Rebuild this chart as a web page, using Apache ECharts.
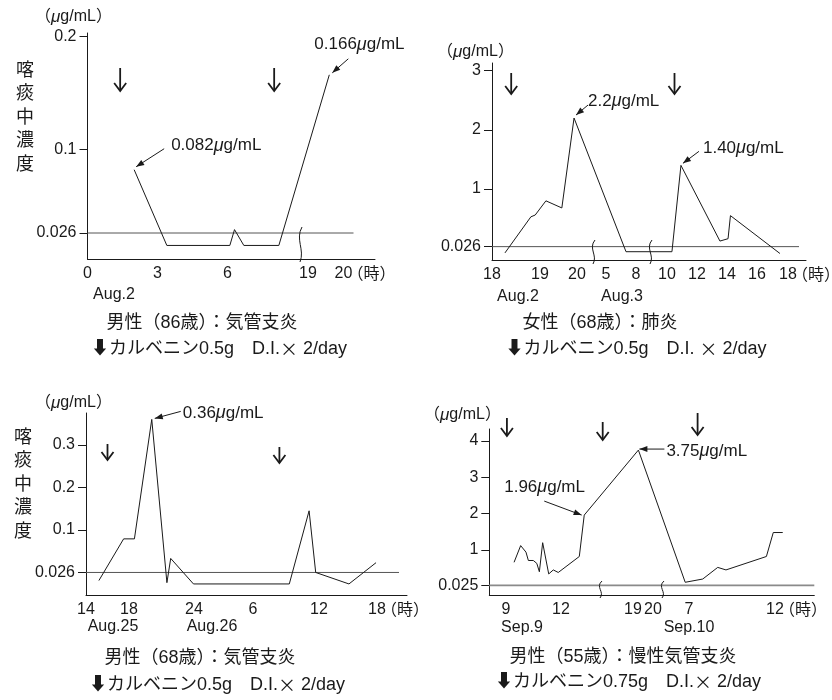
<!DOCTYPE html>
<html><head><meta charset="utf-8">
<script src="https://cdn.jsdelivr.net/npm/echarts@6/dist/echarts.min.js"></script>
<style>html,body{margin:0;padding:0;background:#fff}#c{width:832px;height:700px}</style>
</head><body><div id="c"></div>
<script>
// ---------------- DATA ----------------
// Panel 1: 男性(86歳) 気管支炎  (hours, Aug.2)
const p1Times  = [2.0, 3.4, 6.1, 6.3, 6.7, 8.2, 19.6];
const p1Values = [0.082, 0.015, 0.015, 0.029, 0.015, 0.015, 0.166];
const p1Doses  = [1.4, 8.0];
const p1XTicks = [0, 3, 6, 19, 20];
const p1XTickLabels = ['0', '3', '6', '19', '20'];
const p1YTicks = [0.026, 0.1, 0.2];
const p1YTickLabels = ['0.026', '0.1', '0.2'];

// Panel 2: 女性(68歳) 肺炎  (hours from Aug.2 0:00)
const p2Times  = [18.27, 18.81, 18.9, 19.16, 19.59, 19.92, 31.0, 34.33, 34.93, 37.53, 38.07, 38.23, 41.48];
const p2Values = [-0.08, 0.53, 0.56, 0.80, 0.68, 2.2, -0.06, -0.06, 1.40, 0.12, 0.16, 0.55, -0.09];
const p2Doses  = [18.4, 34.5];
const p2XTicks = [18, 19, 20, 29, 32, 34, 36, 38, 40, 42];
const p2XTickLabels = ['18', '19', '20', '5', '8', '10', '12', '14', '16', '18'];
const p2YTicks = [0.026, 1, 2, 3];
const p2YTickLabels = ['0.026', '1', '2', '3'];

// Panel 3: 男性(68歳) 気管支炎  (hours from Aug.25 0:00)
const p3Times  = [15.2, 17.5, 18.5, 20.1, 21.5, 21.85, 23.95, 33.3, 35.1, 35.7, 39.1, 41.9];
const p3Values = [-0.019, 0.079, 0.079, 0.36, -0.024, 0.033, -0.027, -0.027, 0.145, 0.0, -0.027, 0.023];
const p3Doses  = [16.0, 32.4];
const p3XTicks = [14, 18, 24, 30, 36, 42];
const p3XTickLabels = ['14', '18', '24', '6', '12', '18'];
const p3YTicks = [0, 0.1, 0.2, 0.3];
const p3YTickLabels = ['0.026', '0.1', '0.2', '0.3'];

// Panel 4: 男性(55歳) 慢性気管支炎  (hours from Sep.9 0:00)
const p4Times  = [9.44, 9.8, 10.09, 10.22, 10.49, 10.68, 10.82, 11.0, 11.33, 11.58, 11.85, 13.0, 13.27, 19.27, 30.78, 31.8, 32.67, 33.15, 35.5, 35.9, 36.45];
const p4Values = [0.66, 1.12, 0.94, 0.71, 0.71, 0.63, 0.40, 1.20, 0.34, 0.45, 0.38, 0.82, 1.96, 3.75, 0.11, 0.20, 0.52, 0.45, 0.82, 1.48, 1.48];
const p4Doses  = [9.05, 14.72, 31.5];
const p4XTicks = [9, 12, 19, 20, 31, 36];
const p4XTickLabels = ['9', '12', '19', '20', '7', '12'];
const p4YTicks = [0.025, 1, 2, 3, 4];
const p4YTickLabels = ['0.025', '1', '2', '3', '4'];

// ---------------- LAYOUT ----------------
const NUM = "'Liberation Sans', Arial, sans-serif";
const JP = "'Liberation Sans', 'Noto Sans CJK JP', 'DejaVu Sans', sans-serif";
const INK = '#1a1a1a';

const panels = [
  { times: p1Times, values: p1Values, doses: p1Doses, xTicks: p1XTicks, xLabels: p1XTickLabels, yTicks: p1YTicks, yLabels: p1YTickLabels,
    grid: { left: 87.5, top: 33, width: 287.5, height: 226 }, yMin: 0.003, yMax: 0.203,
    anchors: [[0,0],[3,70],[6,140],[9,210],[19,220.5],[20,256]], breaks: [212.5], breakTop: -32, breakBot: 3, limitEnd: 266,
    doseY: [[68,91],[68,91]],
    unit: { x: 42, y: 17 }, vertical: { x: 25, y: 59 },
    dates: [['Aug.2', 114, 295]],
    cap1: ['男性（86歳）：気管支炎', 202, 323], cap2: ['⬇カルベニン0.5g　D.I.{x|×} 2/day', 219, 349],
    notes: [ { i: 0, text: '0.082{mu|μ}g/mL', tip: [2,-3], tail: [30,-21], label: [37,-24] },
             { i: 6, text: '0.166{mu|μ}g/mL', tip: [3,-2], tail: [19,-16], label: [-15,-30] } ] },
  { times: p2Times, values: p2Values, doses: p2Doses, xTicks: p2XTicks, xLabels: p2XTickLabels, yTicks: p2YTicks, yLabels: p2YTickLabels,
    grid: { left: 492, top: 63, width: 314, height: 197 }, yMin: -0.2, yMax: 3.13,
    anchors: [[18,0],[19,48],[20,85],[29,114],[32,144],[34,175],[36,205],[38,235],[40,265],[42,296]], breaks: [101, 158], breakTop: -20, breakBot: 4, limitEnd: 307,
    doseY: [[73,94],[73,94]],
    unit: { x: 444, y: 52 }, vertical: null,
    dates: [['Aug.2', 518, 297], ['Aug.3', 622, 297]],
    cap1: ['女性（68歳）：肺炎', 600, 323], cap2: ['⬇カルベニン0.5g　D.I. {x|×} 2/day', 636, 349],
    notes: [ { i: 5, text: '2.2{mu|μ}g/mL', tip: [2,-3], tail: [14,-13], label: [14,-17] },
             { i: 8, text: '1.40{mu|μ}g/mL', tip: [2,-2], tail: [18,-14], label: [22,-17] } ] },
  { times: p3Times, values: p3Values, doses: p3Doses, xTicks: p3XTicks, xLabels: p3XTickLabels, yTicks: p3YTicks, yLabels: p3YTickLabels,
    grid: { left: 86, top: 413, width: 321, height: 182 }, yMin: -0.053, yMax: 0.375,
    anchors: [[14,0],[18,43],[24,108],[30,167],[36,233],[42,291]], breaks: [], breakTop: 0, breakBot: 0, limitEnd: 313,
    doseY: [[444,460],[447,463]],
    unit: { x: 42, y: 403 }, vertical: { x: 23, y: 426 },
    dates: [['Aug.25', 113, 627], ['Aug.26', 212, 627]],
    cap1: ['男性（68歳）：気管支炎', 200, 658], cap2: ['⬇カルベニン0.5g　D.I.{x|×} 2/day', 217, 685],
    notes: [ { i: 3, text: '0.36{mu|μ}g/mL', tip: [3,-1], tail: [29,-8], label: [31,-6] } ] },
  { times: p4Times, values: p4Values, doses: p4Doses, xTicks: p4XTicks, xLabels: p4XTickLabels, yTicks: p4YTicks, yLabels: p4YTickLabels,
    grid: { left: 489.3, top: 429, width: 325, height: 166 }, yMin: -0.24, yMax: 4.33,
    anchors: [[9,16.7],[12,71.7],[14,108.3],[19,143.7],[20,163.7],[30,182.5],[31,199.7],[36,285.7]], breaks: [110.7, 172.7], breakTop: -14, breakBot: 3, limitEnd: 325,
    doseY: [[418,436],[422,440],[413,435]],
    unit: { x: 431, y: 415 }, vertical: null,
    dates: [['Sep.9', 522, 628], ['Sep.10', 689, 628]],
    cap1: ['男性（55歳）：慢性気管支炎', 623, 657], cap2: ['⬇カルベニン0.75g　D.I.{x|×} 2/day', 628, 682],
    notes: [ { i: 13, text: '3.75{mu|μ}g/mL', tip: [1,-1], tail: [26,-1], label: [28,1] },
             { i: 12, text: '1.96{mu|μ}g/mL', tip: [-2.6,0], tail: [-40,-14], label: [-80,-28] } ] }
];

function makeMap(anchors) {
  return function (t) {
    let i = 0;
    while (i < anchors.length - 2 && t > anchors[i + 1][0]) i++;
    const a = anchors[i], b = anchors[i + 1];
    return a[1] + (t - a[0]) * (b[1] - a[1]) / (b[0] - a[0]);
  };
}
panels.forEach(p => { p.map = makeMap(p.anchors); });

function lookup(vals, labels, v) {
  let best = -1, bd = 1e9;
  vals.forEach((x, k) => { const d = Math.abs(x - v); if (d < bd) { bd = d; best = k; } });
  return bd < 1e-3 * Math.max(1, Math.abs(v)) + 1e-6 ? labels[best] : '';
}

const grids = [], xAxes = [], yAxes = [], series = [];
panels.forEach((p, gi) => {
  grids.push(Object.assign({ containLabel: false }, p.grid));
  const xPos = p.xTicks.map(p.map);
  xAxes.push({
    type: 'value', gridIndex: gi, min: 0, max: p.grid.width,
    axisLine: { show: true, onZero: false, lineStyle: { color: INK, width: 1 } },
    axisTick: { show: false }, splitLine: { show: false },
    axisLabel: { customValues: xPos, formatter: v => lookup(xPos, p.xLabels, v), color: INK, fontSize: 16, fontFamily: NUM, margin: 7, hideOverlap: false }
  });
  yAxes.push({
    type: 'value', gridIndex: gi, min: p.yMin, max: p.yMax,
    axisLine: { show: true, onZero: false, lineStyle: { color: INK, width: 1 } },
    axisTick: { show: true, customValues: p.yTicks, length: 8, lineStyle: { color: INK, width: 1 } },
    splitLine: { show: false },
    axisLabel: { customValues: p.yTicks, formatter: v => lookup(p.yTicks, p.yLabels, v), color: INK, fontSize: 16, fontFamily: NUM, margin: 11 }
  });
  series.push({
    type: 'line', xAxisIndex: gi, yAxisIndex: gi, symbol: 'none', silent: true, z: 3,
    lineStyle: { color: INK, width: 1 },
    data: p.times.map((t, k) => [p.map(t), p.values[k]])
  });
  series.push({
    type: 'line', xAxisIndex: gi, yAxisIndex: gi, symbol: 'none', silent: true, z: 2,
    lineStyle: { color: gi === 3 ? '#8a8a8a' : '#555', width: gi === 3 ? 1.8 : 1 },
    data: [[0, p.yTicks[0]], [p.limitEnd, p.yTicks[0]]]
  });
});

const chart = echarts.init(document.getElementById('c'), null, { renderer: 'canvas' });
chart.setOption({
  animation: false, backgroundColor: '#fff',
  grid: grids, xAxis: xAxes, yAxis: yAxes, series: series
});

function muRich(size) { return { mu: { fontStyle: 'italic', fontSize: size, fontFamily: NUM, fill: INK, fontWeight: 'normal' } }; }
const G = [];
function txt(text, x, y, opt) {
  opt = opt || {};
  G.push({ type: 'text', z: 10, silent: true, style: Object.assign({
    text: text, x: x, y: y, fill: INK, fontSize: 16, fontFamily: NUM,
    textAlign: 'left', align: 'left', textVerticalAlign: 'middle', verticalAlign: 'middle'
  }, opt) });
}
function arrowHead(tip, tail, len, hw) {
  const dx = tip[0] - tail[0], dy = tip[1] - tail[1];
  const L = Math.sqrt(dx * dx + dy * dy) || 1;
  const ux = dx / L, uy = dy / L;
  const bx = tip[0] - ux * len, by = tip[1] - uy * len;
  G.push({ type: 'polygon', z: 10, silent: true, shape: { points: [tip, [bx - uy * hw, by + ux * hw], [bx + uy * hw, by - ux * hw]] }, style: { fill: INK } });
}

panels.forEach((p, gi) => {
  const px = (x, y) => chart.convertToPixel({ gridIndex: gi }, [x, y]);
  const axisY = p.grid.top + p.grid.height;
  // dose arrows
  p.doses.forEach((d, k) => {
    const x = px(p.map(d), p.yMin)[0];
    const [y0, y1] = p.doseY[k];
    G.push({ type: 'line', z: 10, silent: true, shape: { x1: x, y1: y0, x2: x, y2: y1 - 0.5 }, style: { stroke: INK, lineWidth: 1.8 } });
    G.push({ type: 'polyline', z: 10, silent: true, shape: { points: [[x - 6, y1 - 8], [x, y1], [x + 6, y1 - 8]] }, style: { stroke: INK, lineWidth: 1.8, fill: null } });
  });
  // axis breaks
  p.breaks.forEach(b => {
    const x = px(b, p.yMin)[0];
    const yTop = axisY + p.breakTop, yBot = axisY + p.breakBot;
    const h = yBot - yTop;
    G.push({ type: 'bezierCurve', z: 10, silent: true,
      shape: { x1: x + 2, y1: yTop, x2: x, y2: yBot, cpx1: x - 5, cpy1: yTop + h * 0.35, cpx2: x + 5, cpy2: yTop + h * 0.65 },
      style: { stroke: INK, lineWidth: 1, fill: null } });
  });
  // hour unit after the last x tick
  const lastX = px(p.map(p.xTicks[p.xTicks.length - 1]), p.yMin)[0];
  txt('（時）', lastX + 4, axisY + 15.5, { fontFamily: JP, fontSize: 16 });
  // y unit
  txt('（{mu|μ}g/mL）', p.unit.x - 7, p.unit.y, { fontFamily: JP, fontSize: 16, rich: muRich(17) });
  // vertical title
  if (p.vertical) {
    txt('喀\n痰\n中\n濃\n度', p.vertical.x, p.vertical.y, { fontFamily: JP, fontSize: 18, lineHeight: 23.5, textAlign: 'center', align: 'center', textVerticalAlign: 'top', verticalAlign: 'top' });
  }
  // dates
  p.dates.forEach(d => txt(d[0], d[1], d[2], { textAlign: 'center', align: 'center', fontSize: 16 }));
  // captions
  txt(p.cap1[0], p.cap1[1], p.cap1[2], { fontFamily: JP, fontSize: 18, textAlign: 'center', align: 'center' });
  txt(p.cap2[0], p.cap2[1], p.cap2[2], { fontFamily: JP, fontSize: 18, textAlign: 'center', align: 'center',
    rich: { x: { fontFamily: "'Noto Sans CJK JP', sans-serif", fontSize: 18, fill: INK } } });
  // annotations
  p.notes.forEach(n => {
    const pt = px(p.map(p.times[n.i]), p.values[n.i]);
    const tip = [pt[0] + n.tip[0], pt[1] + n.tip[1]];
    const tail = [pt[0] + n.tail[0], pt[1] + n.tail[1]];
    G.push({ type: 'line', z: 10, silent: true, shape: { x1: tail[0], y1: tail[1], x2: tip[0], y2: tip[1] }, style: { stroke: INK, lineWidth: 1 } });
    arrowHead(tip, tail, 8, 3);
    txt(n.text, pt[0] + n.label[0], pt[1] + n.label[1], { fontSize: 17, rich: muRich(18) });
  });
});
chart.setOption({ graphic: { elements: G } });
</script>
</body></html>
